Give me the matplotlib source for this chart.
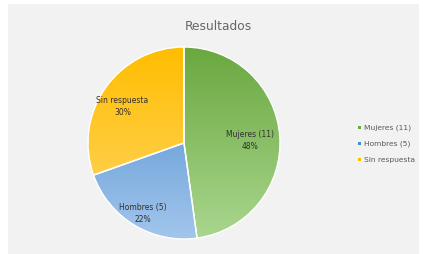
import matplotlib
matplotlib.use("Agg")
import matplotlib.pyplot as plt
import numpy as np
from matplotlib.colors import LinearSegmentedColormap
from matplotlib.patches import Rectangle

categories = ["Mujeres (11)", "Hombres (5)", "Sin respuesta"]
values = [11, 5, 7]
top_colors = ["#6aa83f", "#4a8bcd", "#ffbd00"]
bottom_colors = ["#aad68f", "#a2c6ec", "#ffd76a"]

W, H = 424, 255
fig = plt.figure(figsize=(W/100, H/100), dpi=100)
fig.patch.set_facecolor("white")
# gray chart area
bg = Rectangle((8/W, 0), (419-8)/W, (255-5)/H, transform=fig.transFigure,
               facecolor="#f2f2f2", edgecolor="none", zorder=-10)
fig.patches.append(bg)

cx, cy, r = 184, 144, 96
half = 100
ax = fig.add_axes([(cx-half)/W, (H-cy-half)/H, 2*half/W, 2*half/H])
ax.set_zorder(1)
lim = half / r
ax.patch.set_alpha(0)

total = sum(values)
wedges, _ = ax.pie(values, startangle=90, counterclock=False, radius=1,
                   colors=top_colors, wedgeprops=dict(edgecolor="white", linewidth=1.0))
ax.set_xlim(-lim, lim)
ax.set_ylim(-lim, lim)
ax.set_aspect("equal")
ax.axis("off")

grad = np.linspace(0, 1, 256).reshape(-1, 1)
for w, c1, c2 in zip(wedges, top_colors, bottom_colors):
    cmap = LinearSegmentedColormap.from_list("g", [c1, c2])
    im = ax.imshow(grad, cmap=cmap, extent=(-1, 1, -1, 1), origin="upper",
                   aspect="auto", zorder=1)
    im.set_clip_path(w)
    w.set_facecolor("none")
    w.set_zorder(2)
ax.set_xlim(-lim, lim)
ax.set_ylim(-lim, lim)

# labels
label_pos = [(0.69, 0.04), (-0.43, -0.72), (-0.64, 0.39)]
for (x, y), cat, v in zip(label_pos, categories, values):
    pct = round(100 * v / total)
    ax.text(x, y, f"{cat}\n{pct}%", ha="center", va="center", fontsize=5.5,
            color="#303030", zorder=5, linespacing=1.4)

fig.text(218/W, 1-27/H, "Resultados", ha="center", va="center", fontsize=8.8, color="#666666")

# legend
leg_y = [128, 144, 160]
for y, cat, c in zip(leg_y, categories, top_colors):
    fig.patches.append(Rectangle((358/W, 1-(y+1.5)/H), 3/W, 3/H, transform=fig.transFigure,
                                 facecolor=c, edgecolor="none"))
    fig.text(364/W, 1-y/H, cat, ha="left", va="center", fontsize=5.4, color="#595959")

fig.savefig("out.png", dpi=100, facecolor="white")
